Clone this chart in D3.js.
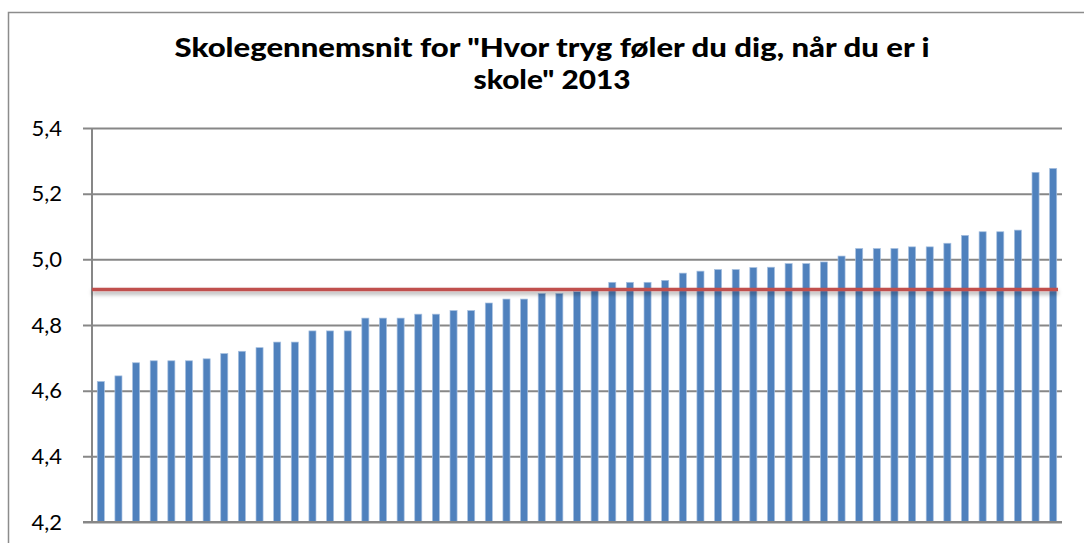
<!DOCTYPE html>
<html>
<head>
<meta charset="utf-8">
<script src="https://cdn.jsdelivr.net/npm/d3@7"></script>
<style>
  body { margin: 0; background: #fff; }
  svg { display: block; }
</style>
</head>
<body>
<div id="viz"></div>
<script>
// School averages, sorted ascending
const schools = d3.range(1, 56).map(i => "Skole " + i);
const scores = [
    4.628, 4.645, 4.685, 4.691, 4.691, 4.691, 4.697, 4.713, 4.720, 4.731,
    4.748, 4.748, 4.782, 4.782, 4.782, 4.821, 4.821, 4.821, 4.833, 4.833,
    4.844, 4.844, 4.867, 4.879, 4.879, 4.896, 4.896, 4.902, 4.910, 4.930,
    4.930, 4.930, 4.936, 4.958, 4.964, 4.969, 4.969, 4.975, 4.976, 4.987,
    4.987, 4.992, 5.010, 5.033, 5.033, 5.033, 5.038, 5.038, 5.049, 5.073,
    5.084, 5.084, 5.089, 5.265, 5.277
];
const average = 4.908;
const yTicks = [4.2, 4.4, 4.6, 4.8, 5.0, 5.2, 5.4];
const titleLines = ["Skolegennemsnit for \"Hvor tryg føler du dig, når du er i", "skole\" 2013"];

const dims = {
    width: 1084,
    height: 543,
    plot: { left: 92, right: 1062, top: 128, bottom: 522 }
};

const svg = d3.select("#viz")
    .append("svg")
    .attr("width", dims.width)
    .attr("height", dims.height);

// drop shadow for the average line (user space, a flat line has no bbox height)
const defs = svg.append("defs");
const shadow = defs.append("filter")
    .attr("id", "shadow")
    .attr("filterUnits", "userSpaceOnUse")
    .attr("x", 0).attr("y", 0)
    .attr("width", dims.width).attr("height", dims.height);
shadow.append("feDropShadow")
    .attr("dx", 0).attr("dy", 3)
    .attr("stdDeviation", 2)
    .attr("flood-color", "#000")
    .attr("flood-opacity", 0.35);

// chart frame (runs off the right and bottom edges)
svg.append("rect")
    .attr("x", 8.5).attr("y", 12.5)
    .attr("width", 1100).attr("height", 560)
    .attr("fill", "#fff")
    .attr("stroke", "#8c8c8c")
    .attr("stroke-width", 1.5);

// title
svg.append("g")
    .selectAll("text")
    .data(titleLines)
    .join("text")
    .attr("x", 552)
    .attr("y", (d, i) => 57 + i * 31.5)
    .attr("text-anchor", "middle")
    .attr("font-family", "Lato, 'Open Sans', sans-serif")
    .attr("font-weight", "900")
    .attr("font-size", "26px")
    .attr("fill", "#000")
    .attr("textLength", (d, i) => i === 0 ? 755 : 157)
    .attr("lengthAdjust", "spacingAndGlyphs")
    .text(d => d);

const x = d3.scaleBand()
    .domain(schools)
    .range([dims.plot.left, dims.plot.right])
    .paddingInner(0.6)
    .paddingOuter(0.3);

const y = d3.scaleLinear()
    .domain([4.2, 5.4])
    .range([dims.plot.bottom, dims.plot.top]);

// gridlines + ticks + labels
const yAxis = d3.axisLeft(y)
    .tickValues(yTicks)
    .tickSize(-(dims.plot.right - dims.plot.left))
    .tickPadding(0)
    .tickFormat(d => d3.format(".1f")(d).replace(".", ","));

const axisG = svg.append("g")
    .attr("transform", `translate(${dims.plot.left},0)`)
    .call(yAxis);
axisG.select(".domain").remove();
axisG.selectAll(".tick line")
    .attr("x1", -9)
    .attr("stroke", "#878787")
    .attr("stroke-width", 2);
axisG.selectAll(".tick text")
    .attr("x", -30)
    .attr("font-family", "Lato, 'Open Sans', sans-serif")
    .attr("font-size", "22px")
    .attr("fill", "#000");

// y axis line
svg.append("line")
    .attr("x1", dims.plot.left).attr("x2", dims.plot.left)
    .attr("y1", y(5.4)).attr("y2", y(4.2))
    .attr("stroke", "#878787")
    .attr("stroke-width", 2);

// bars
svg.append("g")
    .selectAll("rect")
    .data(scores)
    .join("rect")
    .attr("x", (d, i) => x(schools[i]))
    .attr("y", d => y(d))
    .attr("width", x.bandwidth())
    .attr("height", d => y(4.2) - y(d))
    .attr("fill", "#4f81bd")
    .attr("stroke", "#a7c0e0")
    .attr("stroke-width", 0.7);

// bottom axis line over bars
svg.append("line")
    .attr("x1", dims.plot.left - 9).attr("x2", dims.plot.right)
    .attr("y1", y(4.2)).attr("y2", y(4.2))
    .attr("stroke", "#878787")
    .attr("stroke-width", 2);

// average line
svg.append("line")
    .attr("x1", dims.plot.left).attr("x2", dims.plot.right - 4)
    .attr("y1", y(average)).attr("y2", y(average))
    .attr("stroke", "#c0504d")
    .attr("stroke-width", 3.5)
    .attr("filter", "url(#shadow)");
</script>
</body>
</html>
